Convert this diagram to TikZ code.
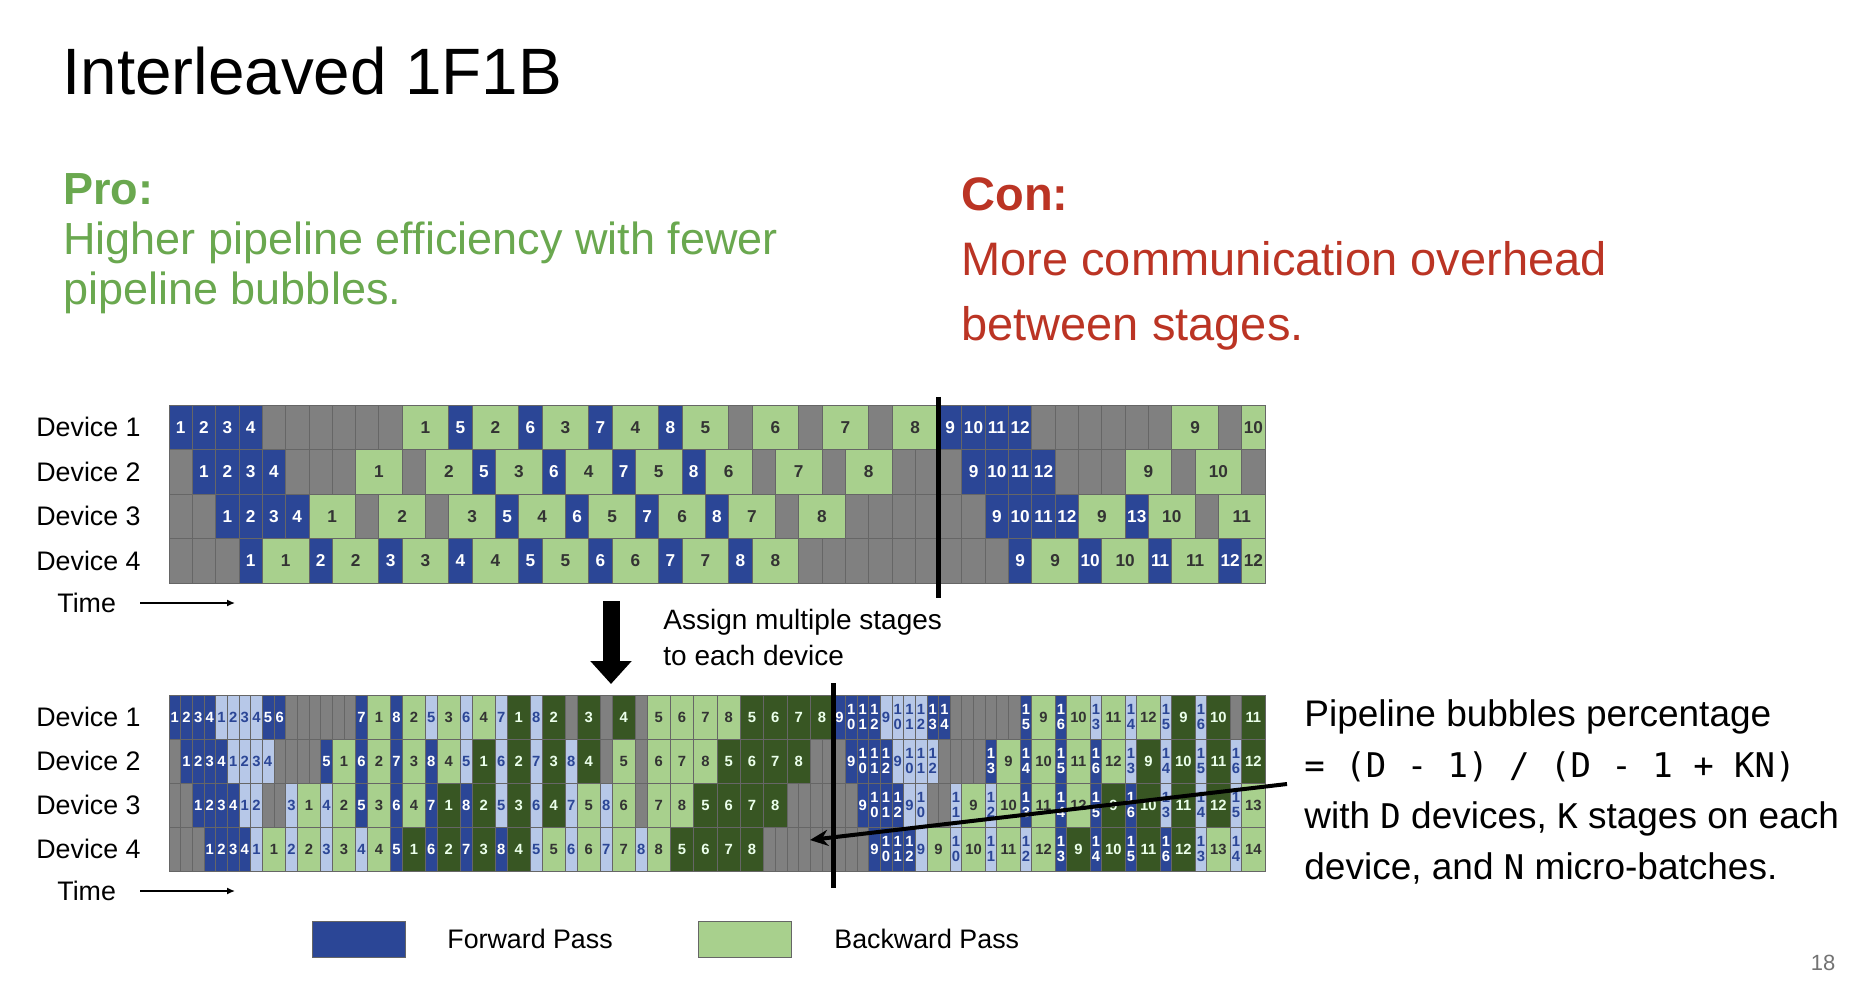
\documentclass[tikz,border=0pt]{standalone}
\usepackage{fontspec}
\setmainfont{Liberation Sans}
\setmonofont{DejaVu Sans Mono}
\usetikzlibrary{arrows.meta}

\definecolor{fwdblue}{RGB}{43,70,150}
\definecolor{fwdlight}{RGB}{183,200,232}
\definecolor{bwdgreen}{RGB}{168,208,141}
\definecolor{bwddark}{RGB}{56,86,35}
\definecolor{idlegray}{RGB}{128,128,128}
\definecolor{progreen}{RGB}{106,168,79}
\definecolor{conred}{RGB}{187,52,36}

% two-digit micro-batch numbers are stacked in the narrow cells
\newcommand\cellnum[1]{\ifnum#1>9 1\\\number\numexpr#1-10\relax\else#1\fi}
\newcommand\mono[1]{{\fontsize{17}{20}\selectfont\ttfamily #1}}

\begin{document}
\begin{tikzpicture}[
                x=0.5pt, y=-0.5pt,
                cell/.style={draw=black!60, line width=0.4pt},
                idle/.style={cell, fill=idlegray},
                fwd/.style={cell, fill=fwdblue},
                fwdtwo/.style={cell, fill=fwdlight},
                bwd/.style={cell, fill=bwdgreen},
                bwdtwo/.style={cell, fill=bwddark},
                topnum/.style={inner sep=0pt, font=\fontsize{8.6}{9}\selectfont\bfseries},
                botnum/.style={inner sep=0pt, align=center, font=\fontsize{7.4}{7.8}\selectfont\bfseries},
                devlabel/.style={anchor=west, inner sep=0pt, font=\fontsize{13.4}{16}\selectfont},
                body/.style={anchor=base west, inner sep=0pt},
                divider/.style={line width=2.5pt},
                timearrow/.style={line width=0.7pt, -{Latex[length=4pt,width=3.5pt]}}]
        \path[use as bounding box, fill=white] (0,0) rectangle (1868,990);

        % Schedule without interleaving: row/start/label, backward cells also carry a width.
        \def\topfwd{%
                0/0/1,0/1/2,0/2/3,0/3/4,0/12/5,0/15/6,0/18/7,0/21/8,0/33/9,0/34/10,0/35/11,0/36/12,%
                1/1/1,1/2/2,1/3/3,1/4/4,1/13/5,1/16/6,1/19/7,1/22/8,1/34/9,1/35/10,1/36/11,1/37/12,%
                2/2/1,2/3/2,2/4/3,2/5/4,2/14/5,2/17/6,2/20/7,2/23/8,2/35/9,2/36/10,2/37/11,2/38/12,2/41/13,%
                3/3/1,3/6/2,3/9/3,3/12/4,3/15/5,3/18/6,3/21/7,3/24/8,3/36/9,3/39/10,3/42/11,3/45/12}
        \def\topbwd{%
                0/10/2/1,0/13/2/2,0/16/2/3,0/19/2/4,0/22/2/5,0/25/2/6,0/28/2/7,0/31/2/8,0/43/2/9,0/46/1/10,%
                1/8/2/1,1/11/2/2,1/14/2/3,1/17/2/4,1/20/2/5,1/23/2/6,1/26/2/7,1/29/2/8,1/41/2/9,1/44/2/10,%
                2/6/2/1,2/9/2/2,2/12/2/3,2/15/2/4,2/18/2/5,2/21/2/6,2/24/2/7,2/27/2/8,2/39/2/9,2/42/2/10,2/45/2/11,%
                3/4/2/1,3/7/2/2,3/10/2/3,3/13/2/4,3/16/2/5,3/19/2/6,3/22/2/7,3/25/2/8,3/37/2/9,3/40/2/10,3/43/2/11,3/46/1/12}

        % Interleaved schedule in half steps: chunk one dark, chunk two light.
        \def\botfwd{%
                0/0/1,0/1/2,0/2/3,0/3/4,0/8/5,0/9/6,0/16/7,0/19/8,0/57/9,0/58/10,0/59/11,0/60/12,0/65/13,0/66/14,0/73/15,0/76/16,%
                1/1/1,1/2/2,1/3/3,1/4/4,1/13/5,1/16/6,1/19/7,1/22/8,1/58/9,1/59/10,1/60/11,1/61/12,1/70/13,1/73/14,1/76/15,1/79/16,%
                2/2/1,2/3/2,2/4/3,2/5/4,2/16/5,2/19/6,2/22/7,2/25/8,2/59/9,2/60/10,2/61/11,2/62/12,2/73/13,2/76/14,2/79/15,2/82/16,%
                3/3/1,3/4/2,3/5/3,3/6/4,3/19/5,3/22/6,3/25/7,3/28/8,3/60/9,3/61/10,3/62/11,3/63/12,3/76/13,3/79/14,3/82/15,3/85/16}
        \def\botfwdtwo{%
                0/4/1,0/5/2,0/6/3,0/7/4,0/22/5,0/25/6,0/28/7,0/31/8,0/61/9,0/62/10,0/63/11,0/64/12,0/79/13,0/82/14,0/85/15,0/88/16,%
                1/5/1,1/6/2,1/7/3,1/8/4,1/25/5,1/28/6,1/31/7,1/34/8,1/62/9,1/63/10,1/64/11,1/65/12,1/82/13,1/85/14,1/88/15,1/91/16,%
                2/6/1,2/7/2,2/10/3,2/13/4,2/28/5,2/31/6,2/34/7,2/37/8,2/63/9,2/64/10,2/67/11,2/70/12,2/85/13,2/88/14,2/91/15,%
                3/7/1,3/10/2,3/13/3,3/16/4,3/31/5,3/34/6,3/37/7,3/40/8,3/64/9,3/67/10,3/70/11,3/73/12,3/88/13,3/91/14}
        \def\botbwd{%
                0/17/1,0/20/2,0/23/3,0/26/4,0/41/5,0/43/6,0/45/7,0/47/8,0/74/9,0/77/10,0/80/11,0/83/12,%
                1/14/1,1/17/2,1/20/3,1/23/4,1/38/5,1/41/6,1/43/7,1/45/8,1/71/9,1/74/10,1/77/11,1/80/12,%
                2/11/1,2/14/2,2/17/3,2/20/4,2/35/5,2/38/6,2/41/7,2/43/8,2/68/9,2/71/10,2/74/11,2/77/12,2/92/13,%
                3/8/1,3/11/2,3/14/3,3/17/4,3/32/5,3/35/6,3/38/7,3/41/8,3/65/9,3/68/10,3/71/11,3/74/12,3/89/13,3/92/14}
        \def\botbwdtwo{%
                0/29/1,0/32/2,0/35/3,0/38/4,0/49/5,0/51/6,0/53/7,0/55/8,0/86/9,0/89/10,0/92/11,%
                1/26/1,1/29/2,1/32/3,1/35/4,1/47/5,1/49/6,1/51/7,1/53/8,1/83/9,1/86/10,1/89/11,1/92/12,%
                2/23/1,2/26/2,2/29/3,2/32/4,2/45/5,2/47/6,2/49/7,2/51/8,2/80/9,2/83/10,2/86/11,2/89/12,%
                3/20/1,3/23/2,3/26/3,3/29/4,3/43/5,3/45/6,3/47/7,3/49/8,3/77/9,3/80/10,3/83/11,3/86/12}

        % Title, pros and cons.
        \node[body, font=\fontsize{32.8}{38}\selectfont] (title) at (62,95) {Interleaved 1F1B};
        \node[body, text=progreen, font=\fontsize{22.5}{26}\selectfont\bfseries] (pro) at (63,204) {Pro:};
        \node[body, text=progreen, font=\fontsize{22.5}{26}\selectfont] (pro1) at (63,254) {Higher pipeline efficiency with fewer};
        \node[body, text=progreen, font=\fontsize{22.5}{26}\selectfont] (pro2) at (63,304) {pipeline bubbles.};
        \node[body, text=conred, font=\fontsize{23.5}{27}\selectfont\bfseries] (con) at (961,210) {Con:};
        \node[body, text=conred, font=\fontsize{23.5}{27}\selectfont] (con1) at (961,275) {More communication overhead};
        \node[body, text=conred, font=\fontsize{23.5}{27}\selectfont] (con2) at (961,340) {between stages.};

        % Upper chart: one unit per forward step.
        \begin{scope}[shift={(169,405)}, x=11.66pt, y=-22.25pt]
                \foreach \r in {0,...,3}
                        \foreach \x in {0,...,46}
                                \draw[idle] (\x,\r) rectangle ++(1,1);
                \foreach \r/\x/\n in \topfwd {
                        \draw[fwd] (\x,\r) rectangle ++(1,1);
                        \node[topnum, text=white] (tf-\r-\x) at (\x+0.5,\r+0.5) {\n};
                }
                \foreach \r/\x/\w/\n in \topbwd {
                        \draw[bwd] (\x,\r) rectangle ++(\w,1);
                        \node[topnum, text=black!80] (tb-\r-\x) at (\x+\w/2,\r+0.5) {\n};
                }
                \draw[divider] (33,-0.18) -- (33,4.34);
        \end{scope}

        % Lower chart: half units, since every device holds two chunks.
        \begin{scope}[shift={(169,695)}, x=5.83pt, y=-22pt]
                \foreach \r in {0,...,3}
                        \foreach \x in {0,...,93}
                                \draw[idle] (\x,\r) rectangle ++(1,1);
                \foreach \r/\x/\n in \botfwd {
                        \draw[fwd] (\x,\r) rectangle ++(1,1);
                        \node[botnum, text=white] (bf-\r-\x) at (\x+0.5,\r+0.5) {\cellnum{\n}};
                }
                \foreach \r/\x/\n in \botfwdtwo {
                        \draw[fwdtwo] (\x,\r) rectangle ++(1,1);
                        \node[botnum, text=fwdblue] (bg-\r-\x) at (\x+0.5,\r+0.5) {\cellnum{\n}};
                }
                \foreach \r/\x/\n in \botbwd {
                        \draw[bwd] (\x,\r) rectangle ++(2,1);
                        \node[botnum, text=black!80] (bb-\r-\x) at (\x+1,\r+0.5) {\n};
                }
                \foreach \r/\x/\n in \botbwdtwo {
                        \draw[bwdtwo] (\x,\r) rectangle ++(2,1);
                        \node[botnum, text=green!8] (bd-\r-\x) at (\x+1,\r+0.5) {\n};
                }
                \draw[divider] (57,-0.27) -- (57,4.39);
        \end{scope}

        % Row labels and time axes.
        \foreach \r in {1,...,4} {
                \node[devlabel] (dtop\r) at (36,405+44.5*\r-22.25) {Device \r};
                \node[devlabel] (dbot\r) at (36,695+44*\r-22) {Device \r};
        }
        \node[devlabel] (ttop) at (57,603) {Time};
        \node[devlabel] (tbot) at (57,891) {Time};
        \coordinate (ttopend) at (235,603);
        \coordinate (tbotend) at (235,891);
        \draw[timearrow] ([xshift=12pt]ttop.east) -- (ttopend);
        \draw[timearrow] ([xshift=12pt]tbot.east) -- (tbotend);

        % From the plain schedule to the interleaved one.
        \draw[line width=8.5pt, -{Triangle[length=11.5pt,width=20pt]}] (611,601) -- (611,684);
        \node[devlabel, font=\fontsize{14}{17}\selectfont] (assign1) at (663,622) {Assign multiple stages};
        \node[devlabel, font=\fontsize{14}{17}\selectfont] (assign2) at (663,655) {to each device};

        % Bubble formula, pointing at the idle cells of the last device.
        \node[body, font=\fontsize{18.5}{22}\selectfont] (bub1) at (1304,726) {Pipeline bubbles percentage};
        \node[body, font=\fontsize{17}{20}\selectfont\ttfamily] (bub2) at (1304,777) {= (D - 1) / (D - 1 + KN)};
        \node[body, font=\fontsize{18.5}{22}\selectfont] (bub3) at (1304,828) {with \mono{D} devices, \mono{K} stages on each};
        \node[body, font=\fontsize{18.5}{22}\selectfont] (bub4) at (1304,879) {device, and \mono{N} micro-batches.};
        \coordinate (bubfrom) at (1287,784);
        \coordinate (bubto) at (810,840);
        \draw[line width=2pt, -{Stealth[length=9pt,width=8pt]}] (bubfrom) -- (bubto);

        % Legend and page number.
        \draw[fwd] (312,921) rectangle (405,957);
        \draw[bwd] (698,921) rectangle (791,957);
        \node[devlabel] (legfwd) at (447,939) {Forward Pass};
        \node[devlabel] (legbwd) at (834,939) {Backward Pass};
        \node[text=black!55, font=\fontsize{11}{13}\selectfont] (pagenum) at (1823,963) {18};
\end{tikzpicture}
\end{document}
